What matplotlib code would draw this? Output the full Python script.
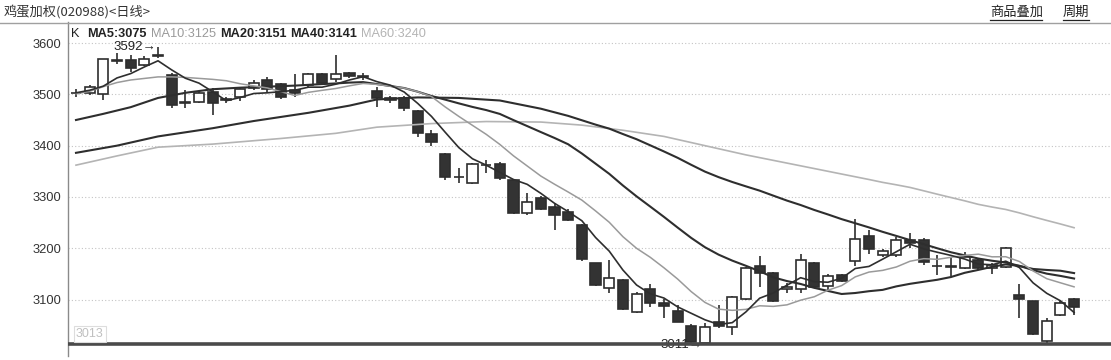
import numpy as np
import pandas as pd
import matplotlib
matplotlib.use("Agg")
import matplotlib.pyplot as plt
from matplotlib.lines import Line2D

# ── Data (daily candles) ──────────────────────────────────────────────────────
OPEN  = [3502, 3502, 3500, 3566, 3567, 3557, 3576, 3538, 3485, 3486,
         3505, 3491, 3494, 3512, 3527, 3520, 3508, 3518, 3539, 3530,
         3541, 3535, 3506, 3492, 3492, 3468, 3423, 3384, 3339, 3328,
         3363, 3365, 3333, 3269, 3297, 3280, 3271, 3245, 3171, 3122,
         3139, 3076, 3120, 3094, 3078, 3048, 3016, 3057, 3047, 3101,
         3165, 3152, 3120, 3120, 3172, 3127, 3147, 3176, 3224, 3187,
         3187, 3216, 3217, 3166, 3165, 3161, 3178, 3161, 3164, 3109,
         3098, 3020, 3070, 3102]
HIGH  = [3510, 3518, 3569, 3580, 3577, 3575, 3592, 3541, 3508, 3506,
         3512, 3494, 3514, 3527, 3533, 3523, 3540, 3541, 3542, 3577,
         3543, 3541, 3515, 3496, 3496, 3470, 3431, 3385, 3356, 3367,
         3372, 3368, 3334, 3308, 3302, 3288, 3276, 3248, 3172, 3178,
         3141, 3115, 3130, 3102, 3090, 3052, 3055, 3089, 3106, 3164,
         3185, 3153, 3132, 3189, 3174, 3150, 3150, 3258, 3235, 3198,
         3222, 3230, 3220, 3187, 3182, 3192, 3181, 3172, 3202, 3130,
         3098, 3065, 3098, 3104]
LOW   = [3495, 3498, 3489, 3559, 3544, 3555, 3570, 3474, 3473, 3484,
         3460, 3484, 3487, 3509, 3505, 3490, 3495, 3515, 3518, 3525,
         3532, 3528, 3476, 3483, 3468, 3417, 3400, 3333, 3327, 3325,
         3347, 3333, 3267, 3265, 3274, 3236, 3253, 3176, 3126, 3112,
         3079, 3074, 3086, 3065, 3056, 3015, 3011, 3044, 3031, 3099,
         3124, 3096, 3112, 3112, 3122, 3118, 3135, 3165, 3189, 3182,
         3183, 3200, 3168, 3148, 3146, 3160, 3158, 3150, 3162, 3065,
         3031, 3016, 3068, 3070]
CLOSE = [3503, 3515, 3568, 3565, 3551, 3568, 3575, 3479, 3484, 3503,
         3484, 3488, 3510, 3523, 3510, 3495, 3502, 3540, 3523, 3539,
         3536, 3534, 3492, 3488, 3473, 3424, 3408, 3338, 3338, 3364,
         3362, 3337, 3269, 3291, 3276, 3265, 3256, 3180, 3128, 3143,
         3081, 3110, 3094, 3087, 3057, 3018, 3047, 3048, 3105, 3162,
         3151, 3098, 3124, 3178, 3124, 3145, 3137, 3219, 3198, 3195,
         3217, 3210, 3174, 3165, 3164, 3182, 3161, 3167, 3200, 3102,
         3033, 3059, 3094, 3086]

MA5_HEAD  = [(0, 3503), (1, 3508), (2, 3516), (3, 3532)]
MA10_HEAD = [(0, 3501), (1, 3506), (2, 3515), (3, 3523), (4, 3528),
             (5, 3531), (6, 3534), (7, 3534), (8, 3533)]
MA20_HEAD = [(0, 3450), (2, 3462), (4, 3475), (6, 3493), (8, 3503),
             (10, 3510), (12, 3513), (14, 3515), (16, 3517), (18, 3520)]
MA40_HEAD = [(0, 3386), (3, 3400), (6, 3418), (10, 3434), (13, 3448),
             (17, 3464), (20, 3478), (22, 3490), (25, 3494), (28, 3493),
             (31, 3488), (34, 3472), (36, 3458), (38, 3441)]
MA60_HEAD = [(0, 3362), (3, 3380), (6, 3397), (10, 3403), (15, 3414),
             (19, 3424), (22, 3436), (26, 3443), (30, 3447), (34, 3446),
             (37, 3440), (40, 3430), (43, 3418), (46, 3400), (49, 3382),
             (52, 3366), (55, 3350), (58, 3334)]

Y_TICKS = [3100, 3200, 3300, 3400, 3500, 3600]
BASE_LINE = 3013

# ── Style ─────────────────────────────────────────────────────────────────────
W, H, DPI = 1111, 360, 100
DARK  = '#2e2e2e'
GRAY1 = '#9a9a9a'   # MA10
GRAY2 = '#b4b4b4'   # MA60
NUM_FONT = ['Liberation Sans', 'DejaVu Sans']
CJK_FONT = ['Noto Sans CJK SC', 'DejaVu Sans']


def px(x):
    return x / W


def py(y):
    return 1 - y / H


fig = plt.figure(figsize=(W / DPI, H / DPI), dpi=DPI)
fig.patch.set_facecolor('white')
ax = fig.add_axes([px(68), py(356), 1 - px(68), (356 - 22) / H])
ax.set_xlim(-0.585, 75.7)
ax.set_ylim(2990, 3641)

for s in ['top', 'right', 'bottom']:
    ax.spines[s].set_visible(False)
ax.spines['left'].set_color('#8a8a8a')
ax.spines['left'].set_linewidth(1.0)
ax.set_xticks([])
ax.set_yticks(Y_TICKS)
ax.set_yticklabels([str(t) for t in Y_TICKS], fontfamily=NUM_FONT,
                   fontsize=9.3, color='#333333')
ax.tick_params(axis='y', length=0, pad=5)
for t in Y_TICKS:
    ax.axhline(t, color='#c4c4c4', lw=0.8, ls=(0, (1, 2)), zorder=0)

# ── Candles ───────────────────────────────────────────────────────────────────
o = np.array(OPEN, float)
hi = np.array(HIGH, float)
lo = np.array(LOW, float)
c = np.array(CLOSE, float)
x = np.arange(len(c))
up = c >= o
body_lo = np.minimum(o, c)
body_h = np.maximum(np.abs(c - o), 0.6)

ax.vlines(x, lo, hi, color=DARK, lw=1.2, zorder=2)
ax.bar(x[up], body_h[up], bottom=body_lo[up], width=0.74,
       facecolor='white', edgecolor=DARK, lw=1.2, zorder=3)
ax.bar(x[~up], body_h[~up], bottom=body_lo[~up], width=0.74,
       facecolor='#333333', edgecolor=DARK, lw=1.2, zorder=3)

# ── Moving averages ───────────────────────────────────────────────────────────
close_s = pd.Series(CLOSE, dtype=float)


def ma_line(n, head):
    tail = close_s.rolling(n).mean()
    xs = [i for i, _ in head] + list(range(n - 1, len(CLOSE)))
    ys = [v for _, v in head] + list(tail.iloc[n - 1:])
    return xs, ys


for n, head, col, lw in [(60, MA60_HEAD, GRAY2, 1.2),
                         (40, MA40_HEAD, DARK, 1.5),
                         (20, MA20_HEAD, DARK, 1.5),
                         (10, MA10_HEAD, GRAY1, 1.1),
                         (5, MA5_HEAD, DARK, 1.2)]:
    xs, ys = ma_line(n, head)
    ax.plot(xs, ys, color=col, lw=lw, zorder=4, solid_joinstyle='round')

# ── Base line and annotations ────────────────────────────────────────────────
ax.axhline(BASE_LINE, color='#4a4a4a', lw=2.6, zorder=5)
ax.text(0.0, BASE_LINE + 8, '3013', fontfamily=NUM_FONT, fontsize=9,
        color='#c0c0c0', ha='left', va='bottom', zorder=6,
        bbox=dict(boxstyle='square,pad=0.15', fc='white', ec='#dddddd', lw=0.8))

i_hi = int(np.argmax(hi))
ax.text(i_hi - 0.15, hi[i_hi], f'{int(hi[i_hi])}→', fontfamily=NUM_FONT,
        fontsize=9.5, color='#222222', ha='right', va='center', zorder=6)
i_lo = int(np.argmin(lo))
ax.text(i_lo - 0.2, lo[i_lo] + 1, f'{int(lo[i_lo])}→', fontfamily=NUM_FONT,
        fontsize=9.5, color='#222222', ha='right', va='center', zorder=4.5)

# ── Header texts ──────────────────────────────────────────────────────────────
fig.add_artist(Line2D([0, 1], [py(22.5), py(22.5)], color='#a0a0a0', lw=1.0))

fig.text(px(4), py(12), '鸡蛋加权(020988)<日线>', fontfamily=CJK_FONT,
         fontsize=9.5, color='#333333', ha='left', va='center')

for label, x0, x1 in [('商品叠加', 990, 1042), ('周期', 1063, 1089)]:
    fig.text(px(x0), py(12), label, fontfamily=CJK_FONT, fontsize=9.5,
             color='#222222', ha='left', va='center')
    fig.add_artist(Line2D([px(x0), px(x1)], [py(19.5), py(19.5)],
                          color='#222222', lw=0.9))

# legend row: K  MA5  MA10  MA20  MA40  MA60
legend = [('K', '#222222', 'normal'),
          ('MA5:3075', '#222222', 'bold'),
          ('MA10:3125', GRAY1, 'normal'),
          ('MA20:3151', '#222222', 'bold'),
          ('MA40:3141', '#222222', 'bold'),
          ('MA60:3240', GRAY2, 'normal')]
fig.canvas.draw()
renderer = fig.canvas.get_renderer()
cur = 71
for i, (label, col, wt) in enumerate(legend):
    t = fig.text(px(cur), py(34), label, fontfamily=NUM_FONT, fontsize=9.2,
                 color=col, fontweight=wt, ha='left', va='center')
    bb = t.get_window_extent(renderer=renderer)
    cur += bb.width + (8 if i == 0 else 4)

fig.savefig('out.png', dpi=DPI, facecolor='white')
